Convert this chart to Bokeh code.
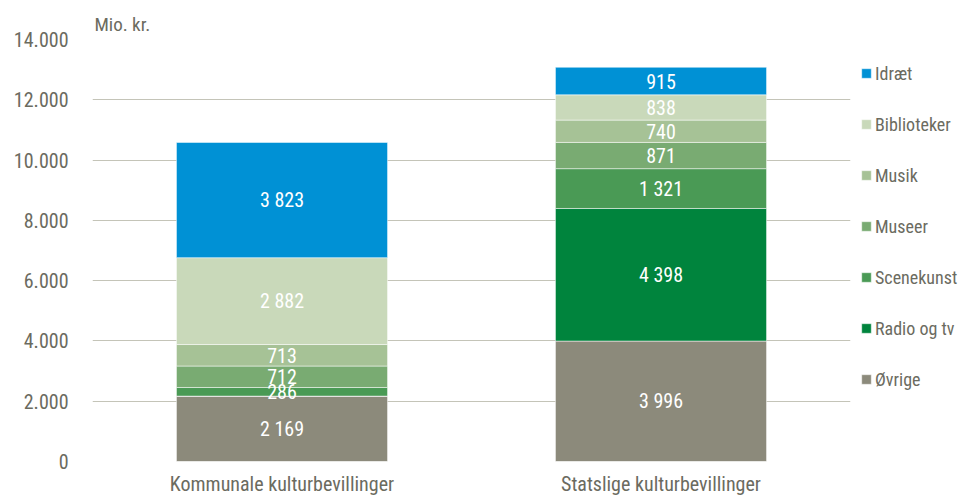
from bokeh.plotting import figure
from bokeh.models import ColumnDataSource, FactorRange, Legend, LegendItem, FixedTicker
from bokeh.core.properties import value
from bokeh.embed import file_html
from bokeh.resources import INLINE

categories = ["Kommunale kulturbevillinger", "Statslige kulturbevillinger"]
series = ["Øvrige", "Radio og tv", "Scenekunst", "Museer", "Musik", "Biblioteker", "Idræt"]
ovrige = [2169, 3996]
radio_tv = [0, 4398]
scenekunst = [286, 1321]
museer = [712, 871]
musik = [713, 740]
biblioteker = [2882, 838]
idraet = [3823, 915]
colors = ["#8C8A7B", "#00843D", "#4A9A55", "#79AB72", "#A6C296", "#C9D9BA", "#0091D5"]
yticks = [0, 2000, 4000, 6000, 8000, 10000, 12000, 14000]
ytick_labels = ["0", "2.000", "4.000", "6.000", "8.000", "10.000", "12.000", "14.000"]

FONT = "Roboto Condensed"
TXT = "#6B6B5F"

values = [ovrige, radio_tv, scenekunst, museer, musik, biblioteker, idraet]
data = {"cat": categories}
for s, v in zip(series, values):
    data[s] = v
src = ColumnDataSource(data)

p = figure(x_range=FactorRange(*categories, range_padding=0), y_range=(0, 14000),
           frame_width=758, frame_height=422, output_backend="svg", toolbar_location=None,
           min_border_left=92, min_border_top=39, min_border_bottom=36, min_border_right=0)
p.background_fill_color = None
p.border_fill_color = None
p.outline_line_color = None

renderers = p.vbar_stack(series, x="cat", width=0.557, color=colors, source=src,
                         line_color="white", line_alpha=0.5, line_width=1)

# value labels
lx, ly, lt = [], [], []
for i, c in enumerate(categories):
    base = 0
    for v in values:
        val = v[i]
        if val > 0:
            lx.append(c)
            ly.append(base + val / 2)
            lt.append(f"{val:,}".replace(",", " "))
        base += val
p.text(x=lx, y=ly, text=lt, text_color="white", text_align="center", text_baseline="middle",
       text_font=value(FONT), text_font_size="20px")

p.yaxis.ticker = FixedTicker(ticks=yticks)
p.yaxis.major_label_overrides = {t: l for t, l in zip(yticks, ytick_labels)}
for ax in (p.xaxis[0], p.yaxis[0]):
    ax.axis_line_color = None
    ax.major_tick_line_color = None
    ax.minor_tick_line_color = None
    ax.major_label_text_font = FONT
    ax.major_label_text_font_size = "20px"
    ax.major_label_text_color = TXT
p.yaxis.major_label_standoff = 18
p.xaxis.major_label_standoff = 4
p.xgrid.grid_line_color = None
p.ygrid.grid_line_color = "#C4C4B8"
p.ygrid.grid_line_width = 1.2

p.title.text = "Mio. kr."
p.title.text_font = FONT
p.title.text_font_size = "19px"
p.title.text_font_style = "normal"
p.title.text_color = TXT
p.title.offset = 2
p.title.standoff = 8

items = [LegendItem(label=s, renderers=[r]) for s, r in zip(series, renderers)][::-1]
legend = Legend(items=items, location="top_left", margin=10, padding=0, spacing=3,
                label_height=48, glyph_height=12, glyph_width=12, label_standoff=3,
                label_text_font=FONT, label_text_font_size="18px", label_text_color=TXT,
                border_line_color=None, background_fill_color=None)
p.add_layout(legend, "right")

open("out.html", "w").write(file_html(p, INLINE))
